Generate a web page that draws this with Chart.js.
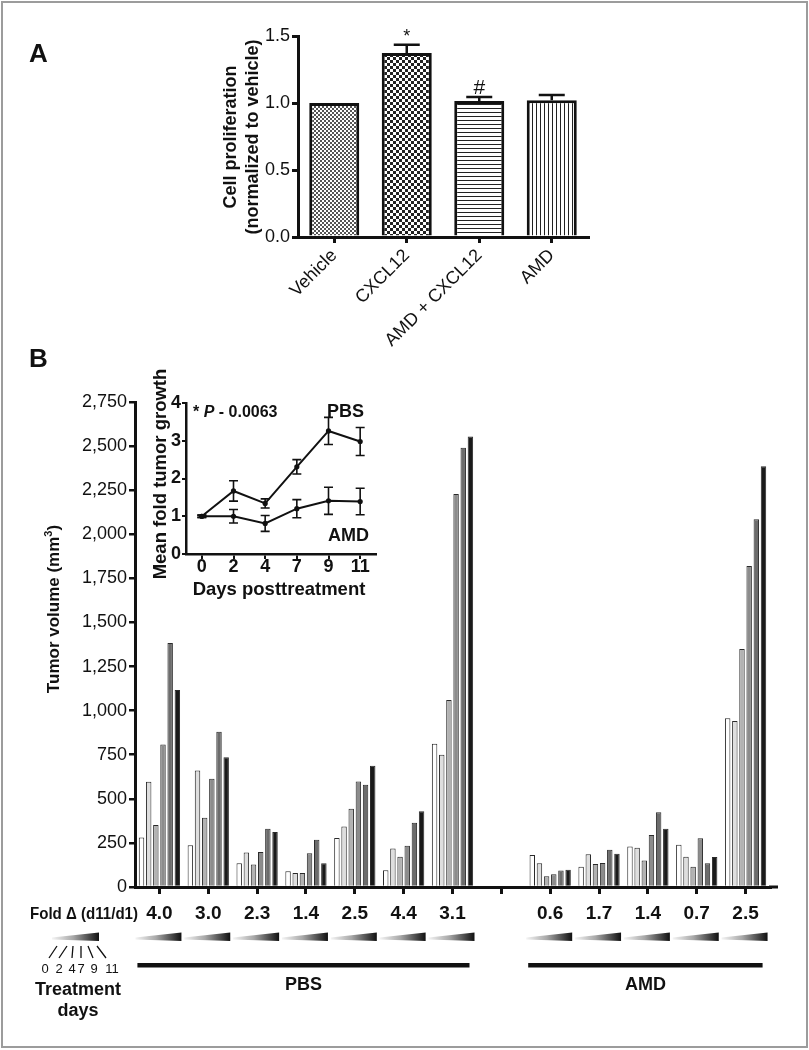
<!DOCTYPE html>
<html>
<head>
<meta charset="utf-8">
<title>CXCL12 proliferation and tumor volume</title>
<script src="https://cdn.jsdelivr.net/npm/chart.js@4.4.1/dist/chart.umd.min.js"></script>
<style>
  html, body { margin: 0; padding: 0; background: #fff; }
  #page { position: relative; width: 809px; height: 1050px; overflow: hidden; }
  #page canvas { position: absolute; left: 0; top: 0; }
  #frame { position: absolute; left: 1px; top: 1px; width: 803px; height: 1043px; border: 2px solid #9c9c9c; }
</style>
</head>
<body>
<div id="page">
  <div id="frame"></div>
  <canvas id="tumor" width="809" height="1050"></canvas>
  <canvas id="prolif" width="809" height="1050"></canvas>
  <canvas id="inset" width="809" height="1050"></canvas>
</div>
<script>
// panel A: proliferation
const treatments = ['Vehicle', 'CXCL12', 'AMD + CXCL12', 'AMD'];
const prolifMean = [1.00, 1.373, 1.015, 1.02];
const prolifSem = [0, 0.062, 0.03, 0.04];
const prolifMarks = ['', '*', '#', ''];
const prolifFills = ['fine', 'check', 'hlines', 'vlines'];

// panel B: tumor volume per mouse, one array per treatment day
const foldLabels = ['4.0', '3.0', '2.3', '1.4', '2.5', '4.4', '3.1', '', '0.6', '1.7', '1.4', '0.7', '2.5'];
const dayNames = ['0', '2', '4', '7', '9', '11'];
const day0  = [280, 237, 134,  90, 278,  95,  812, null, 182, 115, 230, 240,  957];
const day2  = [597, 661, 195,  80, 343, 218,  750, null, 135, 186, 223, 171,  941];
const day4  = [352, 392, 127,  80, 443, 172, 1060, null,  61, 130, 150, 115, 1350];
const day7  = [808, 614, 199, 192, 598, 234, 2228, null,  73, 136, 295, 276, 1820];
const day9  = [1383, 880, 330, 268, 580, 364, 2490, null, 93, 211, 424, 134, 2085];
const day11 = [1117, 735, 312, 135, 688, 430, 2555, null, 98, 188, 330, 170, 2385];
const cohortNames = ['PBS', 'AMD'];
const cohortFirst = [0, 8];
const cohortLast = [6, 12];

// inset: mean fold growth
const pbsMean = [1.0, 1.67, 1.34, 2.31, 3.26, 2.98];
const pbsErr  = [0.03, 0.27, 0.12, 0.19, 0.36, 0.37];
const amdMean = [1.0, 1.0, 0.81, 1.20, 1.41, 1.39];
const amdErr  = [0.03, 0.18, 0.21, 0.24, 0.36, 0.35];

Chart.defaults.font.family = "'Liberation Sans', Arial, Helvetica, sans-serif";
const FONT = Chart.defaults.font.family;
const INK = '#111111';
Chart.defaults.color = INK;
Chart.defaults.animation = false;
Chart.defaults.responsive = false;
Chart.defaults.plugins.legend.display = false;
Chart.defaults.plugins.tooltip.enabled = false;

function pattern(kind) {
  const c = document.createElement('canvas');
  const n = kind === 'check' ? 6 : 4;
  c.width = c.height = n;
  const g = c.getContext('2d');
  g.fillStyle = '#fff';
  g.fillRect(0, 0, n, n);
  g.fillStyle = '#222';
  if (kind === 'fine') { g.fillStyle = '#555'; g.fillRect(0, 0, 2, 2); g.fillRect(2, 2, 2, 2); }
  if (kind === 'check') { g.fillRect(0, 0, 3, 3); g.fillRect(3, 3, 3, 3); }
  if (kind === 'hlines') g.fillRect(0, 0, n, 1);
  if (kind === 'vlines') g.fillRect(0, 0, 1, n);
  return g.createPattern(c, 'repeat');
}

function wedge(ctx, x0, x1) {
  const g = ctx.createLinearGradient(x0, 0, x1, 0);
  g.addColorStop(0, '#f4f4f4');
  g.addColorStop(0.45, '#a8a8a8');
  g.addColorStop(1, '#101010');
  ctx.fillStyle = g;
  ctx.beginPath();
  ctx.moveTo(x0, 937.5);
  ctx.lineTo(x1, 932.5);
  ctx.lineTo(x1, 941);
  ctx.lineTo(x0, 939.5);
  ctx.closePath();
  ctx.fill();
}

function rotatedText(ctx, text, x, y) {
  ctx.save();
  ctx.translate(x, y);
  ctx.rotate(-Math.PI / 2);
  ctx.fillText(text, 0, 0);
  ctx.restore();
}

const axisGrid = { drawOnChartArea: false, tickLength: 6, lineWidth: 3, color: INK };

// ---------- panel B main chart ----------
const tumorExtras = {
  id: 'tumorExtras',
  afterDraw(chart) {
    const ctx = chart.ctx, x = chart.scales.x, ca = chart.chartArea;
    ctx.save();
    ctx.fillStyle = INK;
    ctx.strokeStyle = INK;
    ctx.textBaseline = 'alphabetic';

    ctx.font = `bold 26px ${FONT}`;
    ctx.textAlign = 'left';
    ctx.fillText('A', 29, 62);
    ctx.fillText('B', 29, 367);

    ctx.lineWidth = 3;
    ctx.beginPath();
    ctx.moveTo(ca.right - 1, ca.bottom);
    ctx.lineTo(778, ca.bottom);
    ctx.stroke();

    // y title with superscript
    ctx.save();
    ctx.translate(59, 609);
    ctx.rotate(-Math.PI / 2);
    ctx.font = `bold 17px ${FONT}`;
    const a = 'Tumor volume (mm', b = ')';
    const wa = ctx.measureText(a).width, wb = ctx.measureText(b).width;
    ctx.font = `bold 11px ${FONT}`;
    const ws = ctx.measureText('3').width;
    let sx = -(wa + ws + wb) / 2;
    ctx.font = `bold 17px ${FONT}`;
    ctx.fillText(a, sx, 0);
    ctx.fillText(b, sx + wa + ws, 0);
    ctx.font = `bold 11px ${FONT}`;
    ctx.fillText('3', sx + wa, -7);
    ctx.restore();

    ctx.font = `bold 17px ${FONT}`;
    ctx.fillText('Fold \u0394 (d11/d1)', 30, 919, 108);

    foldLabels.forEach((f, i) => {
      if (!f) return;
      const cx = x.getPixelForValue(i);
      wedge(ctx, cx - 24, cx + 22);
    });

    ctx.fillStyle = INK;
    ctx.textAlign = 'center';
    ctx.font = `bold 18px ${FONT}`;
    cohortNames.forEach((name, k) => {
      const x0 = x.getPixelForValue(cohortFirst[k]) - 22;
      const x1 = x.getPixelForValue(cohortLast[k]) + 17;
      ctx.fillRect(x0, 963, x1 - x0, 4.5);
      ctx.fillText(name, (x0 + x1) / 2, 990);
    });

    // legend wedge for treatment days
    wedge(ctx, 52, 99);
    ctx.strokeStyle = INK;
    ctx.lineWidth = 1.3;
    const fan = [[49, 57], [59, 67], [72, 73], [81, 81], [93, 88], [106, 97]];
    ctx.beginPath();
    fan.forEach(([xb, xt]) => { ctx.moveTo(xb, 958); ctx.lineTo(xt, 946); });
    ctx.stroke();
    ctx.fillStyle = INK;
    ctx.font = `13px ${FONT}`;
    const numX = [45, 59, 72, 81, 94, 112];
    dayNames.forEach((d, i) => ctx.fillText(d, numX[i], 973));
    ctx.font = `bold 18px ${FONT}`;
    ctx.fillText('Treatment', 78, 995);
    ctx.fillText('days', 78, 1016);
    ctx.restore();
  }
};

const shades = ['#ffffff', '#dedede', '#b2b2b2', '#8c8c8c', '#6c6c6c', '#1a1a1a'];
const volumes = [day0, day2, day4, day7, day9, day11];

new Chart(document.getElementById('tumor'), {
  type: 'bar',
  data: {
    labels: foldLabels,
    datasets: volumes.map((d, i) => ({
      label: 'Day ' + dayNames[i],
      data: d,
      backgroundColor: shades[i],
      borderColor: '#2a2a2a',
      borderWidth: 1,
      categoryPercentage: 0.88,
      barPercentage: 0.76
    }))
  },
  options: {
    layout: { autoPadding: false, padding: { top: 402, right: 39, left: 0, bottom: 0 } },
    scales: {
      x: {
        grid: { ...axisGrid, offset: false, tickLength: 7 },
        border: { width: 3, color: INK },
        ticks: { font: { size: 19, weight: 'bold' }, padding: 8, minRotation: 0, maxRotation: 0, autoSkip: false },
        afterFit(s) { s.height = 163; }
      },
      y: {
        min: 0, max: 2750,
        grid: { ...axisGrid, lineWidth: 2.5 },
        border: { width: 3, color: INK },
        ticks: { stepSize: 250, font: { size: 18 }, padding: 2, callback: v => v.toLocaleString('en-US') },
        afterFit(s) { s.width = 135; }
      }
    }
  },
  plugins: [tumorExtras]
});

// ---------- panel A ----------
const prolifExtras = {
  id: 'prolifExtras',
  afterDatasetsDraw(chart) {
    const ctx = chart.ctx, y = chart.scales.y;
    const bars = chart.getDatasetMeta(0).data;
    ctx.save();
    ctx.strokeStyle = INK;
    ctx.fillStyle = INK;
    ctx.lineWidth = 2.5;
    ctx.textAlign = 'center';
    ctx.textBaseline = 'alphabetic';
    bars.forEach((bar, i) => {
      let top = y.getPixelForValue(prolifMean[i]);
      if (prolifSem[i] > 0) {
        top = y.getPixelForValue(prolifMean[i] + prolifSem[i]);
        ctx.beginPath();
        ctx.moveTo(bar.x, bar.y);
        ctx.lineTo(bar.x, top);
        ctx.moveTo(bar.x - 13, top);
        ctx.lineTo(bar.x + 13, top);
        ctx.stroke();
      }
      if (prolifMarks[i]) {
        ctx.font = `${prolifMarks[i] === '*' ? 18 : 21}px ${FONT}`;
        ctx.fillText(prolifMarks[i], bar.x, top - 3);
      }
    });
    ctx.font = `bold 18px ${FONT}`;
    rotatedText(ctx, 'Cell proliferation', 236, 137);
    rotatedText(ctx, '(normalized to vehicle)', 258, 137);
    ctx.restore();
  }
};

new Chart(document.getElementById('prolif'), {
  type: 'bar',
  data: {
    labels: treatments,
    datasets: [{
      data: prolifMean,
      backgroundColor: prolifFills.map(pattern),
      borderColor: INK,
      borderWidth: 3,
      categoryPercentage: 1,
      barPercentage: 0.69
    }]
  },
  options: {
    layout: { autoPadding: false, padding: { top: 36, right: 221, left: 0, bottom: 0 } },
    scales: {
      x: {
        grid: { ...axisGrid, offset: false },
        border: { width: 3, color: INK },
        ticks: { font: { size: 18 }, minRotation: 45, maxRotation: 45, padding: 2, autoSkip: false },
        afterFit(s) { s.height = 813; }
      },
      y: {
        min: 0, max: 1.5,
        grid: axisGrid,
        border: { width: 3, color: INK },
        ticks: { stepSize: 0.5, font: { size: 18 }, padding: 2, callback: v => v.toFixed(1) },
        afterFit(s) { s.width = 298; }
      }
    }
  },
  plugins: [prolifExtras]
});

// ---------- inset ----------
const insetErr = [pbsErr, amdErr];
const insetMean = [pbsMean, amdMean];
const insetExtras = {
  id: 'insetExtras',
  afterDatasetsDraw(chart) {
    const ctx = chart.ctx, y = chart.scales.y;
    ctx.save();
    ctx.strokeStyle = INK;
    ctx.lineWidth = 1.6;
    insetMean.forEach((means, k) => {
      const pts = chart.getDatasetMeta(k).data;
      ctx.beginPath();
      pts.forEach((p, i) => {
        const t = y.getPixelForValue(means[i] + insetErr[k][i]);
        const b = y.getPixelForValue(means[i] - insetErr[k][i]);
        ctx.moveTo(p.x, t); ctx.lineTo(p.x, b);
        ctx.moveTo(p.x - 4.5, t); ctx.lineTo(p.x + 4.5, t);
        ctx.moveTo(p.x - 4.5, b); ctx.lineTo(p.x + 4.5, b);
      });
      ctx.stroke();
    });

    ctx.fillStyle = INK;
    ctx.textBaseline = 'alphabetic';
    ctx.textAlign = 'left';
    let px = 193;
    ctx.font = `bold 16px ${FONT}`;
    ctx.fillText('* ', px, 417);
    px += ctx.measureText('* ').width;
    ctx.font = `italic bold 16px ${FONT}`;
    ctx.fillText('P', px, 417);
    px += ctx.measureText('P').width;
    ctx.font = `bold 16px ${FONT}`;
    ctx.fillText(' - 0.0063', px, 417);

    ctx.font = `bold 18px ${FONT}`;
    ctx.fillText('PBS', 327, 417);
    ctx.fillText('AMD', 328, 541);

    ctx.textAlign = 'center';
    ctx.font = `bold 18.5px ${FONT}`;
    ctx.fillText('Days posttreatment', 279, 595);
    ctx.font = `bold 18.5px ${FONT}`;
    rotatedText(ctx, 'Mean fold tumor growth', 166, 474);
    ctx.restore();
  }
};

new Chart(document.getElementById('inset'), {
  type: 'line',
  data: {
    labels: dayNames,
    datasets: [pbsMean, amdMean].map((d, k) => ({
      label: cohortNames[k],
      data: d,
      borderColor: INK,
      borderWidth: 2,
      pointRadius: 2.6,
      pointBackgroundColor: INK,
      pointBorderWidth: 0,
      tension: 0
    }))
  },
  options: {
    layout: { autoPadding: false, padding: { top: 403, right: 433, left: 0, bottom: 0 } },
    scales: {
      x: {
        offset: true,
        grid: { ...axisGrid, offset: false, tickLength: 5, lineWidth: 2 },
        border: { width: 2.5, color: INK },
        ticks: { font: { size: 18, weight: 'bold' }, padding: -3, autoSkip: false, maxRotation: 0 },
        afterFit(s) { s.height = 496; }
      },
      y: {
        min: 0, max: 4,
        grid: { ...axisGrid, tickLength: 4, lineWidth: 2 },
        border: { width: 2.5, color: INK },
        ticks: { stepSize: 1, font: { size: 18, weight: 'bold' }, padding: 1 },
        afterFit(s) { s.width = 186; }
      }
    }
  },
  plugins: [insetExtras]
});
</script>
</body>
</html>
